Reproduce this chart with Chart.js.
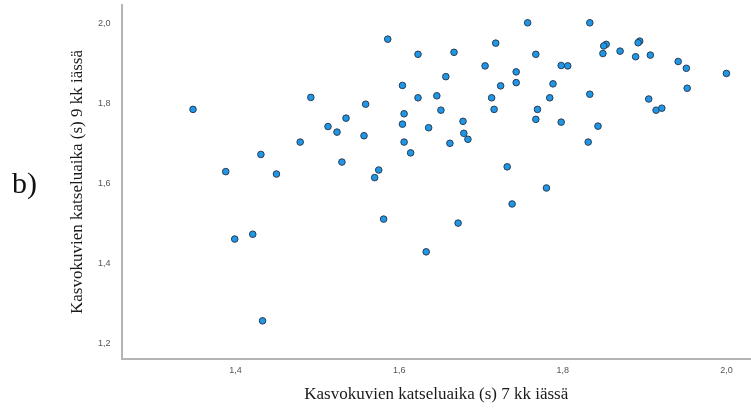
<!DOCTYPE html>
<html>
<head>
<meta charset="utf-8">
<script src="https://cdn.jsdelivr.net/npm/chart.js@4/dist/chart.umd.min.js"></script>
<style>
  html, body { margin: 0; padding: 0; background: #fff; }
  #wrap { position: relative; width: 751px; height: 409px; }
  #lbl { position: absolute; left: 12px; top: 168px; font-family: "Liberation Serif", "Times New Roman", serif; font-size: 30px; color: #111; line-height: 1; }
  canvas { position: absolute; left: 0; top: 0; }
</style>
</head>
<body>
<div id="wrap">
  <canvas id="c" width="751" height="409"></canvas>
  <div id="lbl">b)</div>
</div>
<script>
// 7 kk (x) values
const xValues = [1.348,1.388,1.431,1.450,1.479,1.492,1.513,1.524,1.535,1.530,1.557,1.559,1.570,1.575,1.586,1.604,1.606,1.604,1.606,1.614,1.623,1.623,1.636,1.757,1.833,1.718,1.667,1.767,1.853,1.850,1.849,1.870,1.894,1.892,1.889,1.907,1.941,1.951,2.000,1.705,1.743,1.743,1.798,1.806,1.657,1.724,1.788,1.646,1.713,1.784,1.833,1.952,1.651,1.716,1.769,1.905,1.914,1.921,1.678,1.767,1.798,1.843,1.679,1.684,1.662,1.831,1.732,1.780,1.738,1.672,1.633,1.399,1.421,1.433,1.581];
// 9 kk (y) values
const yValues = [1.786,1.630,1.673,1.624,1.704,1.816,1.743,1.729,1.764,1.654,1.720,1.799,1.615,1.634,1.962,1.846,1.775,1.749,1.704,1.677,1.924,1.815,1.740,2.003,2.003,1.952,1.929,1.924,1.949,1.945,1.926,1.932,1.957,1.953,1.918,1.922,1.906,1.889,1.876,1.895,1.880,1.853,1.896,1.895,1.868,1.845,1.850,1.820,1.815,1.815,1.824,1.839,1.784,1.786,1.786,1.812,1.784,1.789,1.756,1.761,1.754,1.744,1.726,1.711,1.701,1.704,1.642,1.589,1.549,1.501,1.429,1.461,1.473,1.256,1.511];
const xTicks = [1.4, 1.6, 1.8, 2.0];
const yTicks = [1.2, 1.4, 1.6, 1.8, 2.0];
const xTitle = "Kasvokuvien katseluaika (s) 7 kk iässä";
const yTitle = "Kasvokuvien katseluaika (s) 9 kk iässä";

const points = xValues.map((x, i) => ({ x: x, y: yValues[i] }));
const fmt = v => Number(v).toFixed(1).replace('.', ',');
const titleFont = { family: "'Liberation Serif', 'Times New Roman', serif", size: 17, weight: 'normal', lineHeight: 1.2 };
const tickFont = { family: "'Liberation Sans', Arial, sans-serif", size: 9 };

new Chart(document.getElementById('c'), {
  type: 'scatter',
  data: {
    datasets: [{
      data: points,
      backgroundColor: '#1f96e6',
      borderColor: '#2a3d55',
      borderWidth: 1,
      pointRadius: 3.3,
      pointHoverRadius: 3.3
    }]
  },
  options: {
    responsive: false,
    animation: false,
    events: [],
    layout: { autoPadding: false, padding: { top: 5, right: 0, left: 0, bottom: 0 } },
    plugins: { legend: { display: false }, tooltip: { enabled: false } },
    scales: {
      x: {
        type: 'linear',
        min: 1.2606,
        max: 2.030,
        afterBuildTicks: s => { s.ticks = xTicks.map(v => ({ value: v })); },
        afterFit: s => { s.height = 50; s.paddingLeft = 0; s.paddingRight = 0; },
        grid: { display: false, drawTicks: false },
        border: { display: true, color: '#b4b4b4', width: 2 },
        ticks: { callback: v => fmt(v), font: tickFont, color: '#555', padding: 6, maxRotation: 0 },
        title: { display: true, text: xTitle, font: titleFont, color: '#1a1a1a', padding: { top: 0, bottom: 3.8 } }
      },
      y: {
        type: 'linear',
        min: 1.1604,
        max: 2.0476,
        afterBuildTicks: s => { s.ticks = yTicks.map(v => ({ value: v })); },
        afterFit: s => { s.width = 121.5; s.paddingTop = 0; s.paddingBottom = 0; },
        grid: { display: false, drawTicks: false },
        border: { display: true, color: '#b4b4b4', width: 2 },
        ticks: { callback: v => fmt(v), font: tickFont, color: '#555', padding: 11 },
        title: { display: true, text: yTitle, font: titleFont, color: '#1a1a1a', padding: { top: 67.8, bottom: 0 } }
      }
    }
  }
});
</script>
</body>
</html>
